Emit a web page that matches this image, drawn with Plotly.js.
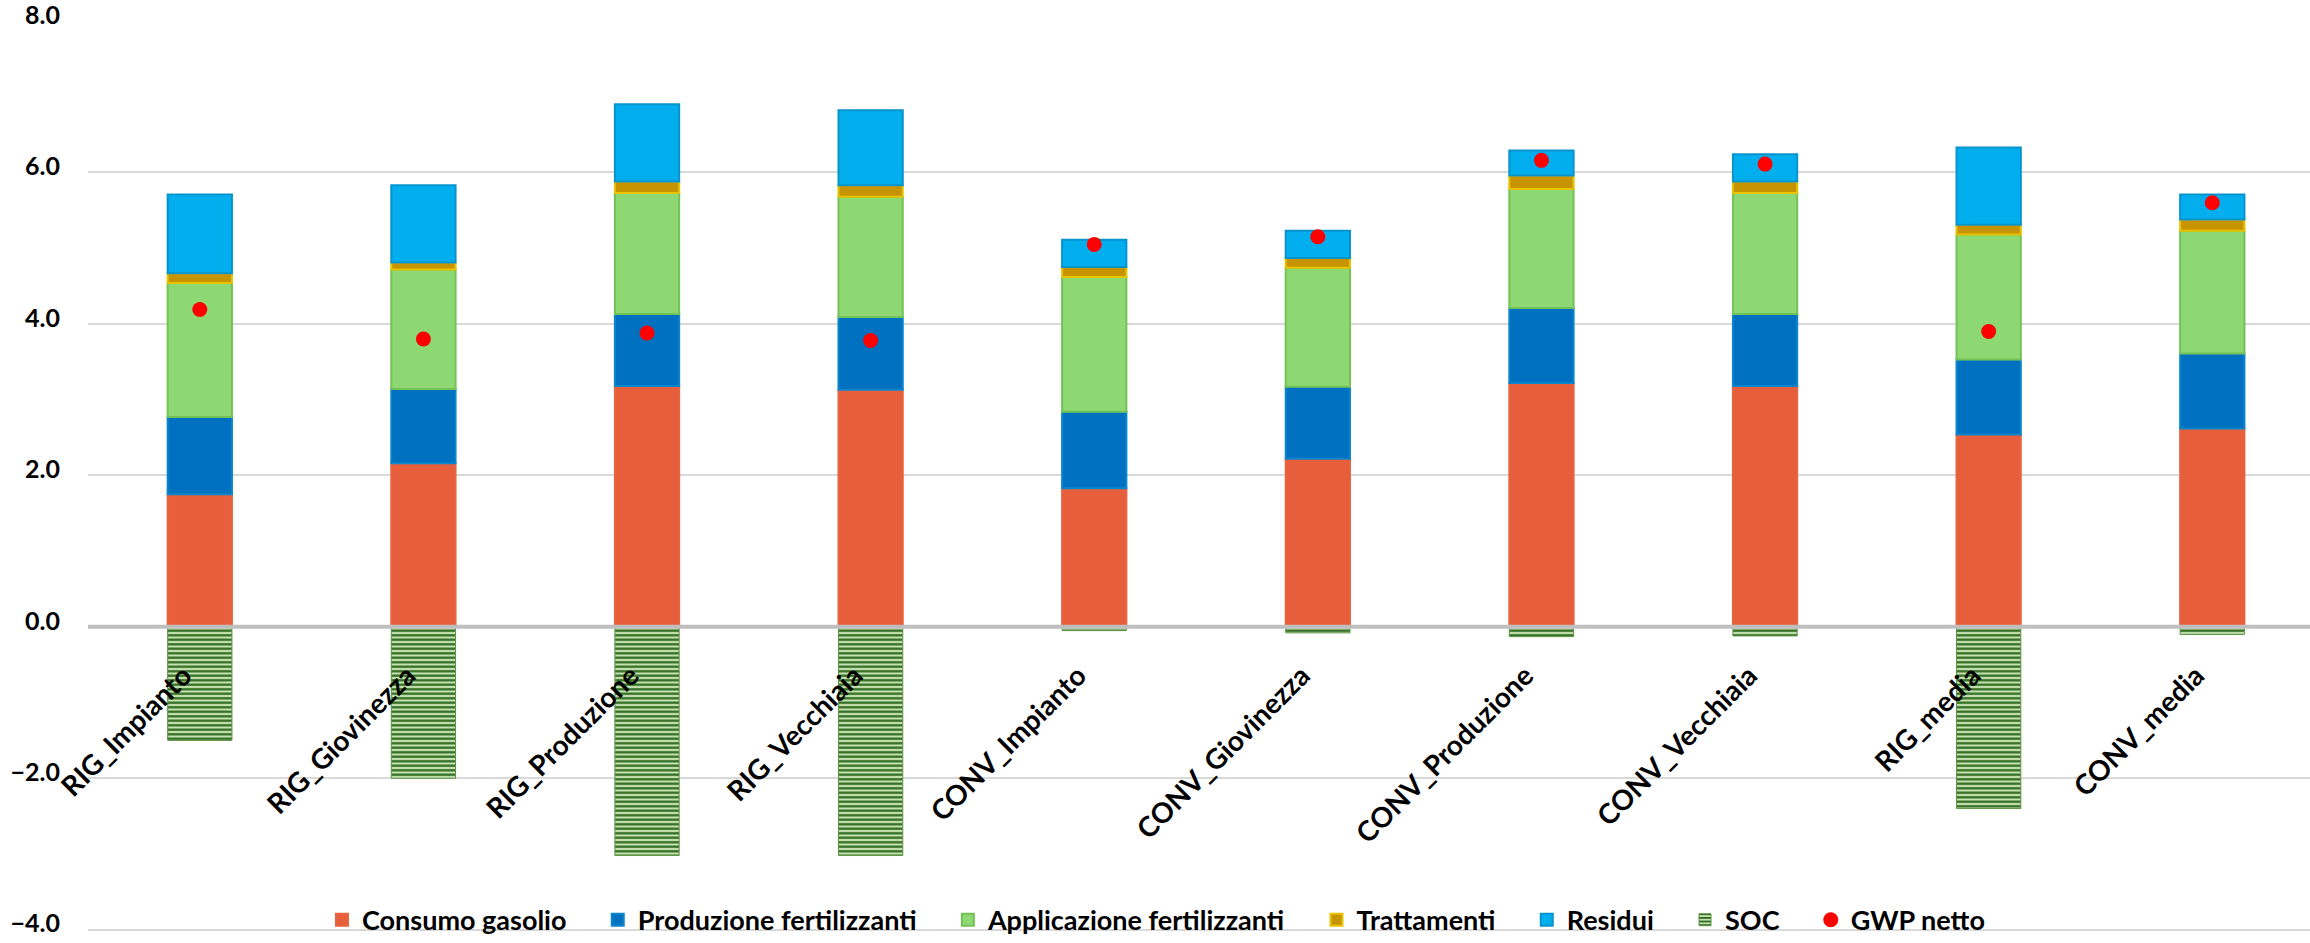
<!DOCTYPE html>
<html>
<head>
<meta charset="utf-8">
<script src="https://cdn.plot.ly/plotly-3.0.1.min.js"></script>
<style>
  html, body { margin: 0; padding: 0; background: #ffffff; }
  #chart { width: 2310px; height: 943px; }
</style>
</head>
<body>
<div id="chart"></div>
<script>
// ---- data ----
const categories = ['RIG_Impianto', 'RIG_Giovinezza', 'RIG_Produzione', 'RIG_Vecchiaia',
  'CONV_Impianto', 'CONV_Giovinezza', 'CONV_Produzione', 'CONV_Vecchiaia', 'RIG_media', 'CONV_media'];
const consumoGasolio = [1.75, 2.16, 3.18, 3.13, 1.83, 2.22, 3.22, 3.18, 2.54, 2.62];
const produzioneFertilizzanti = [1.02, 0.98, 0.95, 0.96, 1.01, 0.95, 0.99, 0.95, 0.99, 0.99];
const applicazioneFertilizzanti = [1.77, 1.58, 1.60, 1.59, 1.78, 1.57, 1.57, 1.60, 1.65, 1.62];
const trattamenti = [0.13, 0.09, 0.15, 0.15, 0.13, 0.13, 0.18, 0.15, 0.13, 0.15];
const residui = [1.04, 1.02, 1.02, 0.99, 0.36, 0.36, 0.33, 0.36, 1.02, 0.33];
const soc = [-1.50, -2.00, -3.02, -3.02, -0.05, -0.08, -0.13, -0.12, -2.40, -0.10];
const gwpNetto = [4.19, 3.80, 3.88, 3.78, 5.05, 5.15, 6.16, 6.11, 3.90, 5.60];
const yTicks = [-4, -2, 0, 2, 4, 6, 8];
const seriesNames = ['Consumo gasolio', 'Produzione fertilizzanti', 'Applicazione fertilizzanti',
  'Trattamenti', 'Residui', 'SOC', 'GWP netto'];

const FONT = 'Lato, "Open Sans", sans-serif';
const BW = 0.2875;
const PAD = '\u00A0\u00A0\u00A0\u00A0'; // extra spacing between legend entries

function barTrace(i, y, color, lineColor) {
  return {
    type: 'bar', name: seriesNames[i] + PAD, x: categories, y: y, width: BW,
    marker: { color: color, line: { color: lineColor, width: 2 } }
  };
}

const traces = [
  barTrace(0, consumoGasolio, '#E65E3C', '#E8643F'),
  barTrace(1, produzioneFertilizzanti, '#0071C1', '#0A86CC'),
  barTrace(2, applicazioneFertilizzanti, '#8DD872', '#74C257'),
  barTrace(3, trattamenti, '#C79400', '#E9C200'),
  barTrace(4, residui, '#02AEEE', '#0794CC'),
  {
    type: 'bar', name: seriesNames[5] + PAD, x: categories, y: soc, width: BW,
    marker: {
      color: '#C4E2B0',
      line: { color: '#5C9445', width: 1 },
      pattern: { shape: '-', fgcolor: '#2F6A1F', bgcolor: '#C4E2B0', size: 4.5, solidity: 0.5 }
    }
  },
  {
    type: 'scatter', mode: 'markers', name: seriesNames[6], x: categories, y: gwpNetto,
    marker: { color: '#FF0000', size: 15, line: { width: 0 } }
  }
];

const layout = {
  width: 2310, height: 943,
  margin: { l: 88, r: 0, t: 21, b: 11, pad: 0, autoexpand: false },
  paper_bgcolor: '#ffffff', plot_bgcolor: '#ffffff',
  barmode: 'relative',
  font: { family: FONT, size: 28, color: '#000000', weight: 700 },
  showlegend: true,
  legend: {
    orientation: 'h', traceorder: 'normal',
    x: 0.1053, xanchor: 'left', y: 0.013, yanchor: 'middle',
    font: { family: FONT, size: 27, color: '#000000', weight: 700 },
    bgcolor: 'rgba(0,0,0,0)', itemwidth: 30, tracegroupgap: 0
  },
  xaxis: {
    type: 'category', range: [-0.5, 9.437], automargin: false,
    anchor: 'free', position: 4.03 / 12.03,
    showgrid: false, zeroline: false, showline: false,
    ticks: '', tickangle: -45, ticklabeloverflow: 'allow',
    ticklabelstandoff: 26, ticklabelshift: -16,
    tickfont: { family: FONT, size: 28, color: '#000000', weight: 700 }
  },
  yaxis: {
    range: [-4.03, 8], tickvals: yTicks, tickformat: '.1f', automargin: false,
    ticklabeloverflow: 'allow', ticklabelshift: -6,
    showgrid: true, gridcolor: '#D9D9D9', gridwidth: 2,
    zeroline: false, showline: false,
    ticks: 'outside', ticklen: 22, tickcolor: 'rgba(0,0,0,0)',
    tickfont: { family: FONT, size: 25, color: '#000000', weight: 700 }
  },
  shapes: [
    { type: 'line', xref: 'paper', yref: 'y', x0: 0, x1: 1, y0: 0, y1: 0,
      line: { color: '#BFBFBF', width: 4 }, layer: 'above' }
  ]
};

Plotly.newPlot('chart', traces, layout, { displayModeBar: false, staticPlot: true });
</script>
</body>
</html>
